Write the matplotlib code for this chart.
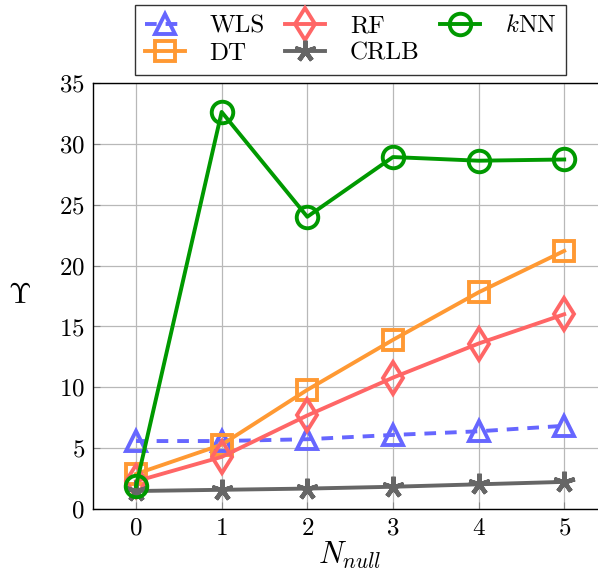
import matplotlib
matplotlib.use("Agg")
import matplotlib.pyplot as plt

x = [0, 1, 2, 3, 4, 5]
wls = [5.6, 5.6, 5.75, 6.1, 6.4, 6.85]
dt = [2.9, 5.3, 9.8, 13.9, 17.8, 21.2]
rf = [2.3, 4.3, 7.7, 10.8, 13.6, 16.0]
crlb = [1.5, 1.6, 1.7, 1.85, 2.05, 2.25]
knn = [1.9, 32.6, 24.0, 28.9, 28.6, 28.7]

plt.rcParams['font.family'] = 'serif'
plt.rcParams['font.serif'] = ['cmr10', 'DejaVu Serif']
plt.rcParams['mathtext.fontset'] = 'cm'
plt.rcParams['axes.formatter.use_mathtext'] = True

W, H = 598, 578
fig = plt.figure(figsize=(W / 100, H / 100), dpi=100)
ax = fig.add_axes([93.2 / W, (H - 509.3) / H, (607 - 93.2) / W, (509.3 - 82.7) / H])

lw = 2.8
ms = 14.5
mew = 2.8
ax.plot(x, wls, color='#6666ff', ls=(0, (3, 2.3)), lw=lw, marker='^', ms=ms, mfc='none', mew=mew, label='WLS', zorder=3)
ax.plot(x, dt, color='#ff9933', lw=lw, marker='s', ms=ms, mfc='none', mew=mew, label='DT', zorder=3)
ax.plot(x, rf, color='#ff6666', lw=lw, marker='d', ms=ms + 2, mfc='none', mew=mew, label='RF', zorder=3)
ax.plot(x, crlb, color='#666666', lw=lw, marker=(5, 2, 0), ms=ms + 1, mew=mew + 0.4, label='CRLB', zorder=3)
ax.plot(x, knn, color='#009900', lw=lw, marker='o', ms=ms + 1, mfc='none', mew=mew, label=r'$k$NN', zorder=3)

ax.set_xlim(-0.5, 5.5)
ax.set_ylim(0, 35)
ax.set_xticks(x)
ax.set_yticks(range(0, 36, 5))
ax.grid(True, color='#b8b8b8', lw=0.9)
ax.set_axisbelow(True)
ax.tick_params(direction='in', length=5, width=0.8, color='#888888', labelsize=18, pad=6)
for s in ax.spines.values():
    s.set_linewidth(1.0)
    s.set_color('black')

ax.set_xlabel(r'$N_{null}$', fontsize=22, labelpad=0)
ax.set_ylabel(r'$\Upsilon$', fontsize=21, rotation=0, labelpad=28, va='center')

leg = fig.legend(loc='upper center', bbox_to_anchor=(350.5 / W, 1 - 5 / H), ncol=3,
                 fontsize=18, frameon=True, fancybox=False, edgecolor='black',
                 handlelength=1.6, columnspacing=0.8, handletextpad=1.0,
                 borderpad=0.4, labelspacing=0.2, borderaxespad=0)
leg.get_frame().set_linewidth(1.0)

fig.savefig('out.png', dpi=100)
